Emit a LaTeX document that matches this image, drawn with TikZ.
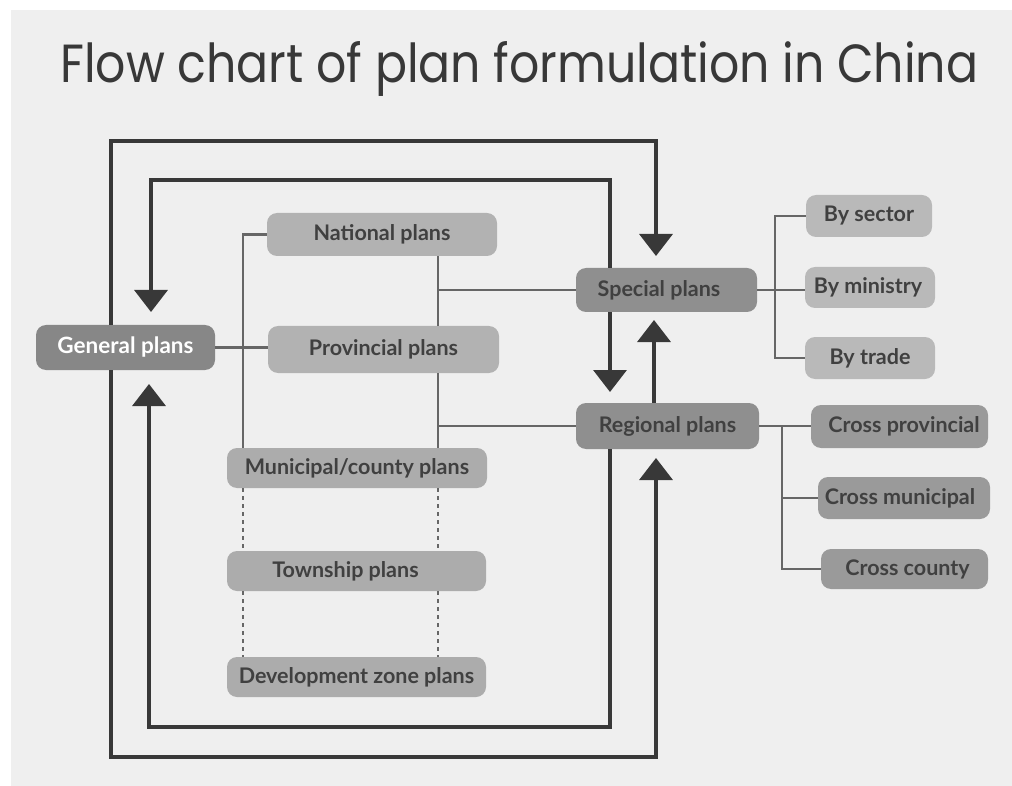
\documentclass[tikz,border=0pt]{standalone}
\usepackage{fontspec}
\setmainfont{Lato}
\newfontfamily\titlefont{Poppins}
\usetikzlibrary{arrows.meta}
\definecolor{bg}{HTML}{EFEFEF}
\definecolor{genfill}{HTML}{878787}
\definecolor{lightbox}{HTML}{B2B2B2}
\definecolor{lowbox}{HTML}{ACACAC}
\definecolor{midbox}{HTML}{8F8F8F}
\definecolor{subbox}{HTML}{B9B9B9}
\definecolor{crossbox}{HTML}{9A9A9A}
\definecolor{txt}{HTML}{404040}
\definecolor{heavyc}{HTML}{383838}
\definecolor{thinc}{HTML}{666666}
\begin{document}
\begin{tikzpicture}[x=1pt,y=-1pt,
  box/.style={rounded corners=10pt, inner sep=0pt, text=txt,
    font=\bfseries\fontsize{21.5}{24}\selectfont},
  heavy/.style={draw=heavyc, line width=3.5pt},
  arr/.style={-{Triangle[width=33pt,length=22pt]}},
  thinline/.style={draw=thinc, line width=2.2pt},
  dotline/.style={draw=thinc, line width=2.2pt, dash pattern=on 4pt off 4pt}]
\useasboundingbox (0,0) rectangle (1012,786);
\fill[white] (0,0) rectangle (1012,786);
\fill[bg] (11,10) rectangle (1012,786);

% title
\node[anchor=base west, inner sep=0pt, text=heavyc] (title) at (60,83)
  {\resizebox{918pt}{41pt}{\titlefont Flow chart of plan formulation in China}};

% nodes
\node[box, fill=genfill, text=white, minimum width=179pt, minimum height=45pt,
  font=\bfseries\fontsize{22.5}{25}\selectfont] (gen) at (125.5,347.5) {General plans};
\node[box, fill=lightbox, minimum width=230pt, minimum height=43pt] (nat) at (382,234.5) {National plans};
\node[box, fill=lightbox, minimum width=231pt, minimum height=47pt] (prov) at (383.5,349.5) {Provincial plans};
\node[box, fill=lowbox, minimum width=260pt, minimum height=40pt] (mun) at (357,468) {Municipal/county plans};
\node[box, fill=lowbox, minimum width=259pt, minimum height=40pt] (town) at (356.5,571) {\hspace*{-22pt}Township plans};
\node[box, fill=lowbox, minimum width=259pt, minimum height=40pt] (dev) at (356.5,677) {Development zone plans};
\node[box, fill=midbox, minimum width=181pt, minimum height=44pt] (spec) at (666.5,290) {\hspace*{-15pt}Special plans};
\node[box, fill=midbox, minimum width=183pt, minimum height=46pt] (reg) at (667.5,426) {Regional plans};
\node[box, fill=subbox, minimum width=126pt, minimum height=42pt] (sec) at (869,216) {By sector};
\node[box, fill=subbox, minimum width=130pt, minimum height=41pt] (mini) at (870,287.5) {\hspace*{-4pt}By ministry};
\node[box, fill=subbox, minimum width=130pt, minimum height=42pt] (trd) at (870,358) {By trade};
\node[box, fill=crossbox, minimum width=177pt, minimum height=43pt] (cp) at (899.5,426.5) {\hspace*{9pt}Cross provincial};
\node[box, fill=crossbox, minimum width=172pt, minimum height=42pt] (cm) at (904,498) {\hspace*{-8pt}Cross municipal};
\node[box, fill=crossbox, minimum width=167pt, minimum height=40pt] (cc) at (904.5,569) {\hspace*{6pt}Cross county};

% helper coordinates
\coordinate (o1) at (111,141);
\coordinate (o2) at (656,141);
\coordinate (o3) at (656,256);
\coordinate (o4) at (111,757);
\coordinate (o5) at (656,757);
\coordinate (o6) at (656,458);
\coordinate (i1) at (610,180);
\coordinate (i2) at (151,180);
\coordinate (i3) at (151,312);
\coordinate (i4) at (610,727);
\coordinate (i5) at (149,727);
\coordinate (i6) at (149,384);
\coordinate (m1) at (610,392);
\coordinate (m2) at (654,320);
\coordinate (l1) at (243,0);
\coordinate (r1) at (438,0);
\coordinate (s1) at (775,0);
\coordinate (s2) at (782,0);

% thin tree lines
\draw[thinline] (nat.west) -- (nat.west -| l1) -- (mun.north -| l1);
\draw[thinline] (gen.east) -- (gen.east -| prov.west);
\draw[thinline] (nat.south -| r1) -- (prov.north -| r1);
\draw[thinline] (prov.south -| r1) -- (mun.north -| r1);
\draw[thinline] (spec.west -| r1) -- (spec.west);
\draw[thinline] (reg.west -| r1) -- (reg.west);
\draw[dotline] (mun.south -| l1) -- (town.north -| l1);
\draw[dotline] (mun.south -| r1) -- (town.north -| r1);
\draw[dotline] (town.south -| l1) -- (dev.north -| l1);
\draw[dotline] (town.south -| r1) -- (dev.north -| r1);
\draw[thinline] (spec.east) -- (spec.east -| mini.west);
\draw[thinline] (sec.west) -- (sec.west -| s1) -- (trd.west -| s1) -- (trd.west);
\draw[thinline] (reg.east) -- (reg.east -| cp.west);
\draw[thinline] (reg.east -| s2) -- (cc.west -| s2) -- (cc.west);
\draw[thinline] (cm.west -| s2) -- (cm.west);

% heavy loops
\draw[heavy, arr] (gen.north -| o1) -- (o1) -- (o2) -- (o3);
\draw[heavy, arr] (gen.south -| o1) -- (o4) -- (o5) -- (o6);
\draw[heavy, arr] (spec.north -| i1) -- (i1) -- (i2) -- (i3);
\draw[heavy, arr] (reg.south -| i4) -- (i4) -- (i5) -- (i6);
\draw[heavy, arr] (spec.south -| m1) -- (m1);
\draw[heavy, arr] (reg.north -| m2) -- (m2);
\end{tikzpicture}
\end{document}
